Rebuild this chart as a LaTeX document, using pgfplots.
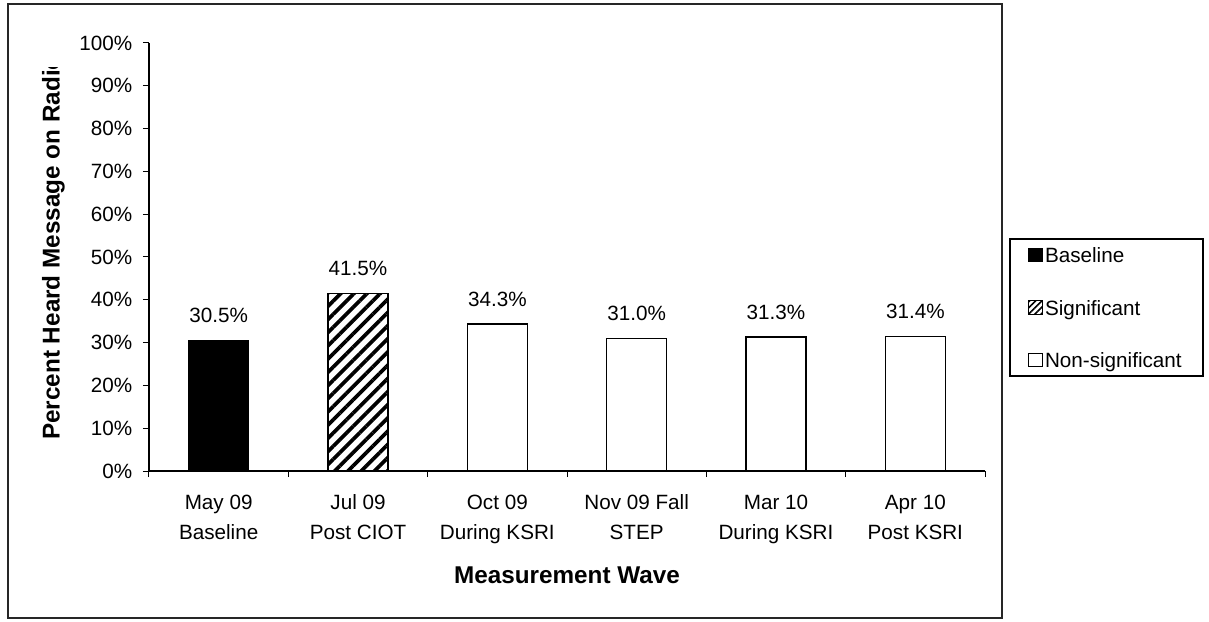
\documentclass[border=0pt]{standalone}
\usepackage{fontspec}
\setmainfont{Liberation Sans}
\usepackage{pgfplots}
\pgfplotsset{compat=1.18}
\usetikzlibrary{patterns.meta}
\newcommand{\tfont}{\fontsize{15.5}{22.5}\selectfont}
\newcommand{\lfont}{\fontsize{18.2}{22}\selectfont\bfseries}
\begin{document}
\begin{tikzpicture}
\begin{axis}[
  at={(0,0)}, anchor=south west,
  scale only axis, width=627pt, height=321pt,
  ybar, bar width=45pt, bar shift=0pt,
  xmin=-0.5, xmax=5.5, ymin=0, ymax=100,
  axis lines=left, axis line style={-, line width=0.9pt},
  /pgf/number format/assume math mode=true,
  tick align=outside, major tick length=4.5pt,
  tick style={black, line width=0.75pt},
  xtick={-0.5,0.5,1.5,2.5,3.5,4.5,5.5},
  x tick label as interval,
  xticklabels={{\strut May 09\\Baseline},{\strut Jul 09\\Post CIOT},{\strut Oct 09\\During KSRI},{\strut Nov 09 Fall\\STEP},{\strut Mar 10\\During KSRI},{\strut Apr 10\\Post KSRI}},
  xticklabel style={align=center, font=\tfont, yshift=-4.8pt},
  ytick={0,10,...,100},
  yticklabel={\pgfmathprintnumber{\tick}\%},
  yticklabel style={font=\tfont, xshift=-4.5pt},
  every axis x label/.style={at={(axis description cs:0.5,0)}, anchor=base, yshift=-84pt, font=\lfont},
  xlabel={Measurement Wave},
  nodes near coords={\pgfmathprintnumber[fixed,fixed zerofill,precision=1]{\pgfplotspointmeta}\%},
  every node near coord/.append style={font=\tfont, inner sep=0pt, yshift=12.5pt, black},
  legend image code/.code={\draw[#1, draw=black, line width=0.6pt] (0pt,-4.9pt) rectangle (9.8pt,4.9pt);},
  legend cell align=left,
  legend style={at={(1.0287,0.5444)}, anchor=north west, draw=black, line width=1.2pt,
    font=\tfont, row sep=16.7pt, inner ysep=1pt, inner xsep=14pt,
    nodes={text height=15pt, text depth=3.5pt}},
]
\addplot[fill=black, draw=black, line width=1.2pt, forget plot] coordinates {(0,30.5)};
\addplot[pattern={Lines[angle=45,distance=7pt,line width=2.8pt]}, draw=black, line width=1.2pt, forget plot] coordinates {(1,41.5)};
\addplot[fill=white, draw=black, line width=1.2pt, forget plot] coordinates {(2,34.3) (3,31.0) (4,31.3) (5,31.4)};
\addlegendimage{fill=black}
\addlegendimage{pattern={Lines[angle=45,distance=3.3pt,line width=1.2pt]}}
\addlegendimage{fill=white}
\legend{Baseline, Significant, Non-significant}
\end{axis}
\begin{scope}[x=0.75pt,y=-0.75pt,shift={(-149,-471)}]
  \draw[line width=1.5pt, black!85] (8,4) rectangle (1002,618);
  \begin{scope}
    \clip (0,68) rectangle (140,620);
    \node[rotate=90, anchor=west, font=\lfont, inner sep=0pt] at (53.5,440) {Percent Heard Message on Radio};
  \end{scope}
\end{scope}
\pgfresetboundingbox
\path[use as bounding box, x=0.75pt, y=-0.75pt, shift={(-149,-471)}] (0,0) rectangle (1209,621);
\end{tikzpicture}
\end{document}
